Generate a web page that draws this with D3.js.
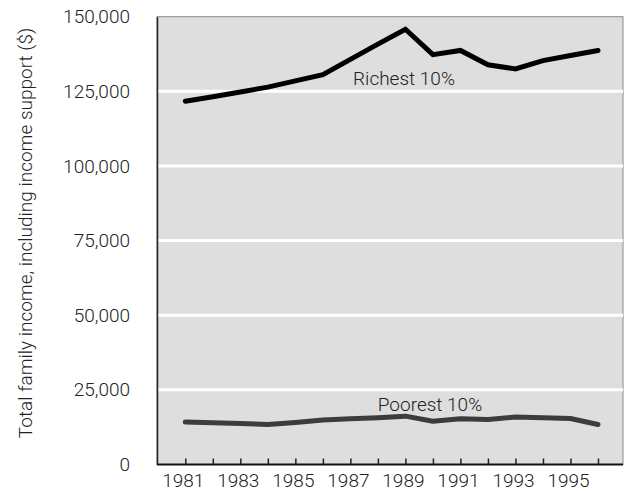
<!DOCTYPE html>
<html>
<head>
<meta charset="utf-8">
<script src="https://cdn.jsdelivr.net/npm/d3@7/dist/d3.min.js"></script>
<style>
  html, body { margin: 0; padding: 0; background: #fff; }
  svg { display: block; }
  text { font-family: Roboto, "Liberation Sans", Arial, sans-serif; font-weight: 300; fill: #222; }
</style>
</head>
<body>
<svg id="chart" width="626" height="493"></svg>
<script>
// Family income by decile, 1981-1996
const years = [1981, 1982, 1983, 1984, 1985, 1986, 1987, 1988, 1989, 1990, 1991, 1992, 1993, 1994, 1995, 1996];
const richest = [121700, 123200, 124800, 126400, 128500, 130600, 135700, 140800, 145800, 137300, 138700, 133900, 132500, 135300, 137000, 138700];
const poorest = [14200, 14000, 13700, 13400, 14100, 14900, 15300, 15700, 16200, 14500, 15300, 15100, 15900, 15700, 15400, 13400];
const yTicks = [0, 25000, 50000, 75000, 100000, 125000, 150000];
const xLabelYears = [1981, 1983, 1985, 1987, 1989, 1991, 1993, 1995];
const seriesLabels = ["Richest 10%", "Poorest 10%"];

const svg = d3.select("#chart");
const plotLeft = 157, plotTop = 16.7, plotRight = 623, plotBottom = 464.5;
const fontSize = "19px";

const x = d3.scaleLinear().domain([1981, 1996]).range([185.3, 598]);
const y = d3.scaleLinear().domain([0, 150000]).range([plotBottom, plotTop]);

// plot panel
svg.append("rect")
  .attr("x", plotLeft).attr("y", plotTop)
  .attr("width", plotRight - plotLeft).attr("height", plotBottom - plotTop)
  .attr("fill", "#dedede")
  .attr("stroke", "#8a8a8a").attr("stroke-width", 1);

// horizontal gridlines
svg.append("g").selectAll("line")
  .data(yTicks.filter(d => d > 0 && d < 150000))
  .join("line")
  .attr("x1", plotLeft).attr("x2", plotRight)
  .attr("y1", d => y(d)).attr("y2", d => y(d))
  .attr("stroke", "#fff").attr("stroke-width", 3);

// y axis: labels only, plus the left spine
const yAxis = d3.axisLeft(y)
  .tickValues(yTicks)
  .tickSize(0)
  .tickPadding(27)
  .tickFormat(d3.format(","));
const gy = svg.append("g").attr("transform", `translate(${plotLeft},0)`).call(yAxis);
gy.attr("font-family", null).attr("font-size", null);
gy.select(".domain").attr("stroke", "#222").attr("stroke-width", 1.5);
gy.selectAll("text").style("font-size", fontSize).attr("fill", "#222");

// x axis: a tick every year pointing inward, labels every other year
const xAxis = d3.axisTop(x)
  .tickValues(years)
  .tickSize(6)
  .tickSizeOuter(0)
  .tickFormat("");
const gx = svg.append("g").attr("transform", `translate(0,${plotBottom})`).call(xAxis);
gx.select(".domain").attr("d", `M${plotLeft},0H${plotRight}`).attr("stroke", "#111").attr("stroke-width", 2);
gx.selectAll(".tick line").attr("stroke", "#222").attr("stroke-width", 1.5);

svg.append("g").selectAll("text")
  .data(xLabelYears)
  .join("text")
  .attr("x", d => x(d) - 2)
  .attr("y", 487)
  .attr("text-anchor", "middle")
  .style("font-size", fontSize)
  .text(d => d);

// y axis title
svg.append("text")
  .attr("transform", "translate(32,233) rotate(-90)")
  .attr("text-anchor", "middle")
  .style("font-size", fontSize)
  .text("Total family income, including income support ($)");

// series lines
const line = d3.line().x((d, i) => x(years[i])).y(d => y(d));

svg.append("path")
  .datum(richest)
  .attr("d", line)
  .attr("fill", "none")
  .attr("stroke", "#000")
  .attr("stroke-width", 5)
  .attr("stroke-linecap", "round")
  .attr("stroke-linejoin", "miter");

svg.append("path")
  .datum(poorest)
  .attr("d", line)
  .attr("fill", "none")
  .attr("stroke", "#3c3c3c")
  .attr("stroke-width", 5)
  .attr("stroke-linecap", "round")
  .attr("stroke-linejoin", "round");

// series labels
svg.append("text")
  .attr("x", 404).attr("y", 85)
  .attr("text-anchor", "middle")
  .style("font-size", fontSize)
  .text(seriesLabels[0]);

svg.append("text")
  .attr("x", 430).attr("y", 411)
  .attr("text-anchor", "middle")
  .style("font-size", fontSize)
  .text(seriesLabels[1]);
</script>
</body>
</html>
